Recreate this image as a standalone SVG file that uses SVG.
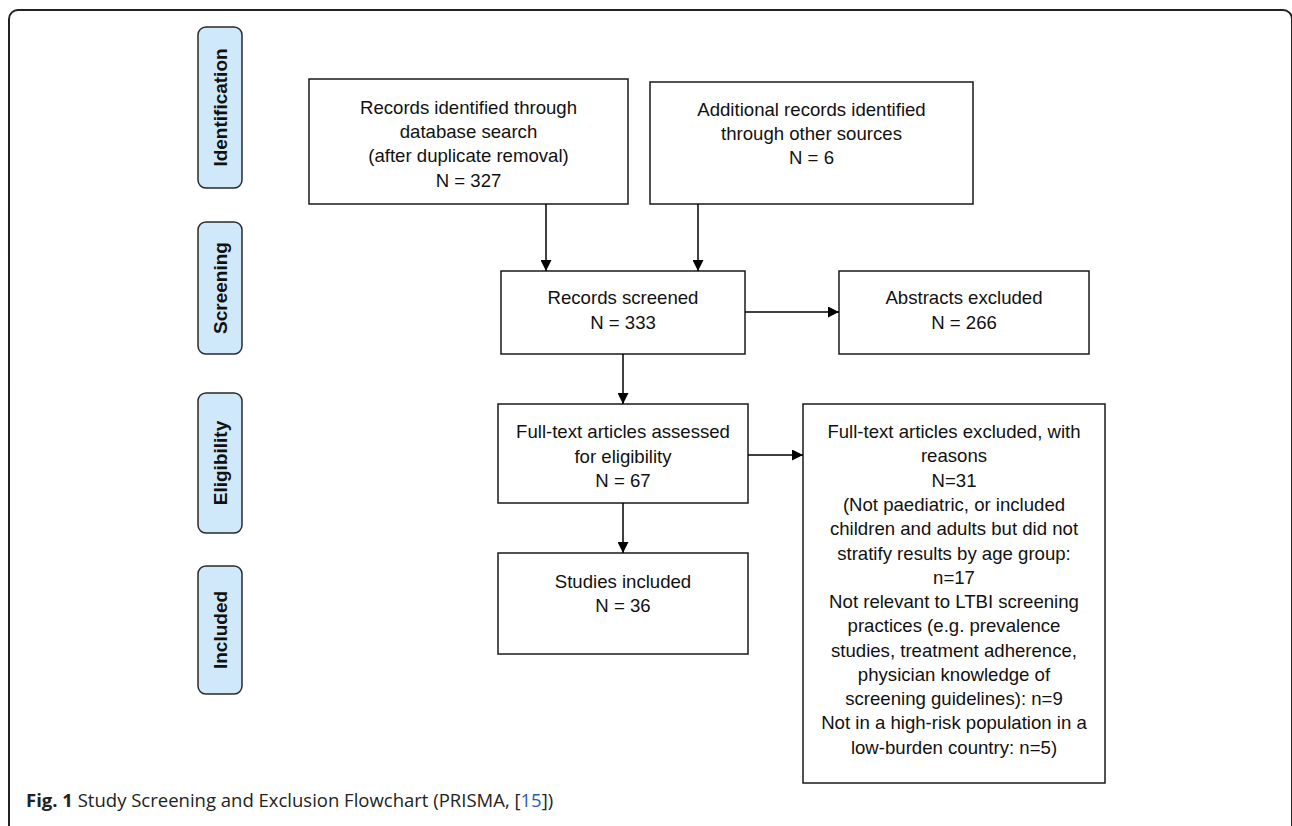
<svg xmlns="http://www.w3.org/2000/svg" width="1292" height="826" viewBox="0 0 1292 826">
<defs>
<style>
.box{fill:#fff;stroke:#1a1a1a;stroke-width:1.5}
.pill{fill:#cfe9fb;stroke:#2a2a2a;stroke-width:1.5}
.t{font-family:"Liberation Sans",Arial,sans-serif;font-size:18.6px;fill:#111;text-anchor:middle}
.pt{font-family:"Liberation Sans",Arial,sans-serif;font-size:19px;font-weight:bold;fill:#111;text-anchor:middle}
.c{stroke:#000;stroke-width:1.5;fill:none;marker-end:url(#ah)}
.cap{font-family:"Open Sans","Liberation Sans",sans-serif;font-size:18.5px;fill:#222}
</style>
<marker id="ah" viewBox="0 0 10 10" refX="10" refY="5" markerWidth="11" markerHeight="11" markerUnits="userSpaceOnUse" orient="auto">
<path d="M0,0 L10,5 L0,10 z" fill="#000"/>
</marker>
</defs>
<rect width="1292" height="826" fill="#fff"/>
<rect x="9" y="10" width="1283" height="840" rx="9" fill="none" stroke="#222" stroke-width="2"/>

<g id="stage-identification">
<rect class="pill" x="198" y="27" width="44" height="161" rx="8"/>
<text class="pt" transform="translate(227,107.5) rotate(-90)">Identification</text>
</g>
<g id="stage-screening">
<rect class="pill" x="198" y="222" width="44" height="132" rx="8"/>
<text class="pt" transform="translate(227,288) rotate(-90)">Screening</text>
</g>
<g id="stage-eligibility">
<rect class="pill" x="198" y="393" width="44" height="140" rx="8"/>
<text class="pt" transform="translate(227,463) rotate(-90)">Eligibility</text>
</g>
<g id="stage-included">
<rect class="pill" x="198" y="566" width="44" height="128" rx="8"/>
<text class="pt" transform="translate(227,630) rotate(-90)">Included</text>
</g>

<g id="records-db">
<rect class="box" x="309" y="79" width="319" height="125"/>
<text class="t" x="468.5" y="114">Records identified through</text>
<text class="t" x="468.5" y="138">database search</text>
<text class="t" x="468.5" y="162">(after duplicate removal)</text>
<text class="t" x="468.5" y="187">N = 327</text>
</g>
<g id="records-other">
<rect class="box" x="650" y="82" width="323" height="122"/>
<text class="t" x="811.5" y="116">Additional records identified</text>
<text class="t" x="811.5" y="140">through other sources</text>
<text class="t" x="811.5" y="164">N = 6</text>
</g>
<g id="screened">
<rect class="box" x="501" y="271" width="244" height="83"/>
<text class="t" x="623" y="304">Records screened</text>
<text class="t" x="623" y="329">N = 333</text>
</g>
<g id="abstracts-excluded">
<rect class="box" x="839" y="271" width="250" height="83"/>
<text class="t" x="964" y="304">Abstracts excluded</text>
<text class="t" x="964" y="329">N = 266</text>
</g>
<g id="fulltext">
<rect class="box" x="498" y="404" width="250" height="99"/>
<text class="t" x="623" y="438">Full-text articles assessed</text>
<text class="t" x="623" y="463">for eligibility</text>
<text class="t" x="623" y="487">N = 67</text>
</g>
<g id="studies-included">
<rect class="box" x="498" y="553" width="250" height="101"/>
<text class="t" x="623" y="588">Studies included</text>
<text class="t" x="623" y="612">N = 36</text>
</g>
<g id="fulltext-excluded">
<rect class="box" x="803" y="404" width="302" height="379"/>
<text class="t" x="954" y="438">Full-text articles excluded, with</text>
<text class="t" x="954" y="462">reasons</text>
<text class="t" x="954" y="486.5">N=31</text>
<text class="t" x="954" y="511">(Not paediatric, or included</text>
<text class="t" x="954" y="535">children and adults but did not</text>
<text class="t" x="954" y="559.5">stratify results by age group:</text>
<text class="t" x="954" y="583.5">n=17</text>
<text class="t" x="954" y="608">Not relevant to LTBI screening</text>
<text class="t" x="954" y="632">practices (e.g. prevalence</text>
<text class="t" x="954" y="656.5">studies, treatment adherence,</text>
<text class="t" x="954" y="680.5">physician knowledge of</text>
<text class="t" x="954" y="705">screening guidelines): n=9</text>
<text class="t" x="954" y="729">Not in a high-risk population in a</text>
<text class="t" x="954" y="753.5">low-burden country: n=5)</text>
</g>

<g id="connectors">
<line class="c" x1="546" y1="204" x2="546" y2="271"/>
<line class="c" x1="698" y1="204" x2="698" y2="271"/>
<line class="c" x1="745" y1="312" x2="839" y2="312"/>
<line class="c" x1="623" y1="354" x2="623" y2="404"/>
<line class="c" x1="748" y1="455" x2="803" y2="455"/>
<line class="c" x1="623" y1="503" x2="623" y2="553"/>
</g>

<text class="cap" x="26" y="807"><tspan font-weight="bold">Fig. 1</tspan> Study Screening and Exclusion Flowchart (PRISMA, [<tspan fill="#2a5db0">15</tspan>])</text>
</svg>
